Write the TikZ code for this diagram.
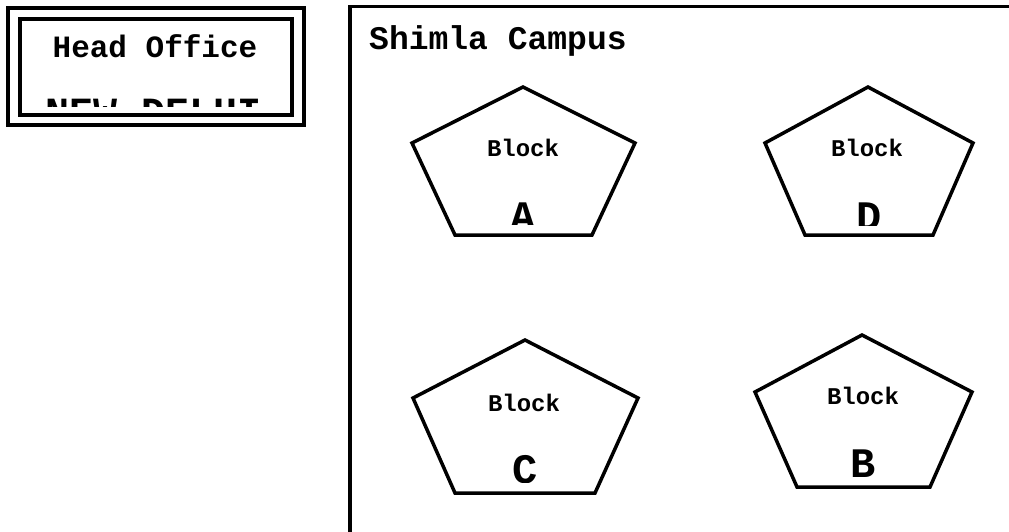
\documentclass[tikz,border=0pt]{standalone}
\usepackage{fontspec}
\setmonofont{Liberation Mono}
\begin{document}
\tikzset{
  boxline/.style={line width=3.5pt},
  pent/.style={line width=3.5pt, line join=miter},
  lbl/.style={inner sep=0pt, anchor=base},
  fhead/.style={font=\ttfamily\bfseries\fontsize{31}{38}\selectfont},
  fcity/.style={font=\ttfamily\bfseries\fontsize{40}{48}\selectfont},
  fcamp/.style={font=\ttfamily\bfseries\fontsize{33}{40}\selectfont},
  fblock/.style={font=\ttfamily\bfseries\fontsize{24}{30}\selectfont},
  fletter/.style={font=\ttfamily\bfseries\fontsize{42}{50}\selectfont},
}
\begin{tikzpicture}[x=1pt,y=-1pt]
\useasboundingbox (0,0) rectangle (1009,531);
% Head office
\draw[line width=4pt] (7.5,7.5) rectangle (304,125);
\draw[boxline] (20,19) rectangle (292,115);
\begin{scope}
  \clip (22,21) rectangle (290,106);
  \node[lbl,fhead] (ho) at (155,57) {Head Office};
  \node[lbl,fcity] (nd) at (154,125) {NEW DELHI};
\end{scope}
% Campus frame
\draw[boxline] (1012,6.5) -- (350,6.5) -- (350,535);
\node[lbl,fcamp,anchor=base west] (sc) at (369,49) {Shimla Campus};
% Block A
\draw[pent] (523,87) -- (635,143) -- (592,235) -- (455,235) -- (412,143) -- cycle;
\node[lbl,fblock] (ba) at (523,156) {Block};
\begin{scope}
  \clip (480,190) rectangle (570,224);
  \node[lbl,fletter] (la) at (523.5,230) {A};
\end{scope}
% Block D
\draw[pent] (868,87) -- (973,143) -- (933,235) -- (805,235) -- (765,143) -- cycle;
\node[lbl,fblock] (bd) at (867,156) {Block};
\begin{scope}
  \clip (830,190) rectangle (910,225);
  \node[lbl,fletter] (ld) at (869.5,230) {D};
\end{scope}
% Block C
\draw[pent] (525,340) -- (638,398) -- (595,493) -- (455,493) -- (413,398) -- cycle;
\node[lbl,fblock] (bc) at (524,411) {Block};
\begin{scope}
  \clip (480,440) rectangle (570,482);
  \node[lbl,fletter] (lc) at (525,483) {C};
\end{scope}
% Block B
\draw[pent] (862,335) -- (972,392) -- (930,487) -- (797,487) -- (755,392) -- cycle;
\node[lbl,fblock] (bb) at (863,404) {Block};
\node[lbl,fletter] (lb) at (863,477) {B};
\end{tikzpicture}
\end{document}
